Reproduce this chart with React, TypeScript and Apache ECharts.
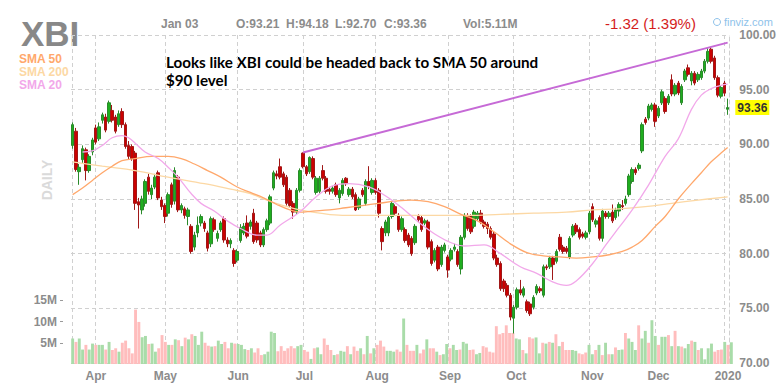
import React, { useEffect, useRef } from "react";
import * as echarts from "echarts";

// ---------- calendar ----------
const START_DAY = "2019-03-21";
const END_DAY = "2020-01-03";
const MARKET_HOLIDAYS = ["2019-04-19", "2019-05-27", "2019-07-04", "2019-09-02", "2019-11-28", "2019-12-25", "2020-01-01"];
const MONTH_NAMES = ["Jan", "Feb", "Mar", "Apr", "May", "Jun", "Jul", "Aug", "Sep", "Oct", "Nov", "Dec"];

// ---------- header values ----------
const TICKER = "XBI";
const HEADER_DATE = "Jan 03";
const HEADER_OHLC = ["O:93.21", "H:94.18", "L:92.70", "C:93.36"];
const HEADER_VOL = "Vol:5.11M";
const HEADER_CHANGE = "-1.32 (1.39%)";
const LAST_CLOSE = 93.36;
const NOTE_LINES = ["Looks like XBI could be headed back to SMA 50 around", "$90 level"];

// ---------- price axis ----------
const PRICE_MIN = 70;
const PRICE_MAX = 100;
const PRICE_STEP = 5;
const VOL_MAX = 20e6;
const VOL_TICKS = [5e6, 10e6, 15e6];

// ---------- daily candles: [open, close, low, high] ----------
const CANDLES: number[][] = [
  [89.9, 91.8, 89.6, 92.0], [91.2, 87.7, 87.5, 91.5], [87.5, 87.9, 86.3, 88.2], [88.6, 89.6, 88.3, 89.9],
  [89.5, 87.6, 86.7, 89.7], [87.6, 88.9, 87.4, 89.1], [89.3, 90.4, 89.0, 90.6],
  [91.5, 90.2, 90.0, 91.8], [90.5, 91.6, 90.3, 92.0], [92.2, 92.7, 91.9, 92.9], [92.5, 91.3, 91.1, 92.8],
  [92.1, 93.8, 91.9, 94.0], [93.1, 92.2, 92.0, 93.6], [92.5, 91.2, 91.0, 92.7], [91.8, 92.8, 91.6, 93.1],
  [93.0, 91.8, 91.5, 93.3], [91.8, 89.8, 89.6, 92.0], [89.9, 88.9, 88.6, 90.3], [89.8, 88.7, 88.5, 90.0],
  [89.2, 84.6, 84.0, 89.4], [84.75, 84.45, 82.3, 85.1], [84.0, 85.0, 83.6, 85.3], [84.6, 86.6, 84.3, 86.8],
  [87.0, 85.7, 85.4, 87.3], [85.4, 86.0, 85.0, 86.3], [86.1, 87.0, 85.9, 87.3], [87.4, 85.1, 84.9, 87.6],
  [84.9, 84.3, 84.0, 85.2],
  [84.4, 83.4, 82.8, 84.6], [83.7, 85.4, 83.4, 85.6], [86.3, 84.5, 84.2, 86.5], [84.8, 87.6, 84.5, 87.9],
  [87.0, 84.0, 83.8, 87.2], [84.0, 84.4, 83.7, 84.6], [84.1, 83.5, 83.2, 84.3], [83.4, 84.0, 82.6, 84.2],
  [82.5, 80.2, 80.0, 82.7], [80.6, 81.7, 80.3, 82.0], [81.9, 82.6, 81.5, 83.4], [82.8, 83.4, 82.5, 83.6],
  [82.8, 82.3, 82.0, 83.0], [81.9, 80.5, 80.2, 82.1], [80.9, 83.2, 80.6, 83.4], [83.1, 82.2, 82.0, 83.3],
  [81.4, 81.85, 81.1, 82.1], [82.2, 82.8, 82.0, 83.0], [83.2, 81.25, 81.0, 83.4], [81.25, 80.9, 80.6, 81.5],
  [80.9, 81.2, 80.5, 81.4], [80.3, 79.1, 78.8, 80.5],
  [79.4, 80.2, 79.2, 80.4], [81.2, 82.4, 81.0, 82.7], [81.9, 82.5, 81.7, 82.8], [82.8, 81.6, 81.4, 83.5],
  [82.5, 82.9, 82.2, 83.1], [83.7, 81.1, 80.9, 84.1], [82.8, 81.25, 81.0, 83.0], [81.9, 80.8, 80.6, 82.1],
  [80.8, 82.2, 80.6, 82.4], [82.2, 83.0, 82.0, 83.2], [82.8, 85.2, 82.6, 85.4], [86.0, 87.4, 85.8, 87.6],
  [87.3, 87.1, 86.8, 87.6], [87.95, 87.0, 86.8, 88.7], [87.3, 86.3, 86.1, 87.5], [87.0, 84.6, 84.4, 87.2],
  [85.8, 84.4, 84.2, 86.0], [84.6, 83.8, 83.2, 84.8], [83.8, 85.8, 83.6, 86.0], [85.8, 87.6, 85.6, 87.8],
  [89.2, 87.95, 87.8, 89.25], [87.95, 87.3, 87.1, 88.1], [87.5, 88.8, 87.3, 88.9], [88.7, 87.0, 86.8, 88.9],
  [85.6, 86.9, 85.4, 87.1], [85.7, 86.9, 85.5, 87.1], [87.6, 86.9, 86.7, 88.1], [86.9, 85.7, 85.5, 87.1],
  [85.9, 85.7, 85.4, 86.1], [85.7, 86.0, 85.5, 86.2], [86.3, 85.4, 85.2, 86.5], [85.1, 85.8, 84.6, 86.0],
  [85.5, 86.7, 85.3, 86.9], [86.9, 86.4, 86.2, 87.0], [85.4, 85.9, 85.2, 86.1], [85.9, 85.2, 85.0, 86.1],
  [85.4, 84.0, 83.9, 85.6], [84.2, 85.0, 84.0, 85.2], [85.8, 85.4, 85.2, 86.0], [84.6, 86.6, 84.4, 86.8],
  [86.6, 86.2, 85.9, 88.0], [85.6, 86.7, 85.4, 86.9],
  [86.7, 85.6, 85.4, 86.9], [85.8, 83.7, 83.3, 86.0], [82.3, 81.1, 80.3, 82.5], [81.9, 82.9, 81.6, 83.1],
  [81.9, 83.3, 81.6, 83.5], [83.4, 84.6, 83.2, 84.8], [84.3, 83.7, 83.5, 84.5], [83.5, 82.2, 82.0, 83.7],
  [82.2, 83.2, 82.0, 83.4], [82.2, 81.2, 81.0, 82.4], [81.7, 80.8, 80.6, 81.9], [81.4, 80.0, 79.8, 81.6],
  [81.0, 82.5, 80.8, 82.7], [83.4, 83.1, 82.9, 83.6], [83.3, 82.2, 82.0, 83.5], [82.8, 83.0, 82.6, 83.2],
  [82.9, 80.6, 80.4, 83.1], [81.1, 79.1, 78.9, 81.3], [79.4, 80.3, 79.2, 80.5], [80.6, 78.6, 78.4, 80.8],
  [79.0, 80.6, 78.8, 80.8], [80.3, 80.8, 80.1, 81.0],
  [79.7, 78.5, 77.8, 79.9], [79.5, 80.3, 79.3, 80.5], [80.4, 80.6, 80.2, 80.9], [80.2, 79.0, 78.8, 80.4],
  [78.6, 81.5, 78.1, 81.7], [81.5, 83.5, 81.3, 83.7], [83.5, 82.3, 82.1, 83.7], [83.4, 82.0, 81.8, 83.6],
  [82.5, 83.8, 82.3, 84.0], [83.2, 83.7, 83.0, 83.9], [83.7, 82.9, 82.7, 84.0], [82.9, 82.5, 82.3, 83.1],
  [82.7, 82.3, 81.8, 82.9], [82.3, 81.5, 81.3, 82.5], [81.8, 79.6, 79.4, 82.0], [79.6, 79.0, 78.8, 79.9],
  [79.1, 76.8, 76.6, 79.3], [77.5, 76.8, 76.5, 77.7], [77.1, 76.2, 76.0, 77.3], [76.2, 74.2, 73.9, 76.4],
  [74.1, 75.1, 72.7, 75.3], [75.1, 76.7, 74.9, 76.9], [76.7, 76.4, 76.2, 77.6], [76.2, 76.8, 76.0, 77.0],
  [75.6, 74.8, 74.6, 75.8], [75.4, 74.5, 74.3, 75.6], [75.1, 76.0, 74.9, 76.2], [76.4, 77.0, 76.2, 77.2],
  [76.8, 76.6, 76.4, 77.0], [76.2, 78.8, 76.0, 79.0], [78.8, 78.7, 78.5, 79.0], [78.8, 79.6, 78.6, 79.8],
  [79.6, 79.0, 77.6, 79.8], [79.3, 80.2, 79.1, 80.4], [81.5, 80.4, 80.2, 81.8], [80.6, 80.2, 80.0, 80.8],
  [80.5, 80.2, 80.0, 80.7], [79.7, 81.4, 79.5, 81.6], [81.7, 82.5, 81.5, 82.7], [82.6, 82.0, 81.8, 82.8],
  [82.2, 81.5, 81.3, 82.4], [81.8, 81.6, 81.4, 82.0], [81.5, 81.9, 81.3, 82.1],
  [82.0, 83.7, 81.8, 83.9], [84.3, 83.1, 82.9, 84.6], [82.7, 83.0, 82.4, 83.2], [83.3, 81.4, 81.2, 83.5],
  [81.4, 83.9, 81.1, 84.1], [83.7, 83.4, 83.2, 83.9], [83.4, 83.7, 83.2, 83.9], [83.8, 83.0, 82.8, 84.5],
  [83.3, 84.0, 83.1, 84.2], [83.9, 84.5, 83.4, 84.7], [84.4, 84.3, 84.0, 84.9], [84.6, 85.0, 84.4, 85.3],
  [85.4, 87.1, 85.2, 87.3], [86.6, 87.7, 86.4, 87.9], [87.7, 87.4, 87.2, 87.9], [87.8, 88.1, 87.6, 88.3],
  [89.4, 91.8, 89.2, 92.0], [92.3, 92.0, 91.8, 92.5], [92.4, 93.5, 92.2, 93.7], [93.2, 93.6, 93.0, 93.8],
  [93.6, 92.1, 91.6, 93.8], [92.6, 93.3, 92.4, 93.5], [93.8, 94.8, 93.6, 95.0], [94.2, 93.0, 92.8, 94.4],
  [93.8, 94.4, 93.6, 94.6], [95.9, 94.6, 94.4, 96.4], [94.6, 95.4, 94.4, 95.6], [95.6, 94.7, 94.5, 95.8],
  [93.8, 95.3, 93.6, 95.5], [95.9, 96.7, 95.7, 96.9], [97.0, 96.4, 96.2, 97.3], [95.8, 96.5, 95.4, 96.7],
  [96.5, 95.6, 95.4, 96.7], [95.9, 96.4, 95.7, 96.6], [96.1, 96.7, 95.9, 96.9], [96.7, 97.6, 96.5, 97.8],
  [97.6, 98.5, 97.4, 98.8], [98.7, 97.6, 97.4, 98.9], [97.9, 96.1, 95.9, 98.1], [96.1, 94.5, 94.3, 96.3],
  [94.4, 95.2, 94.2, 95.4],
  [95.6, 94.68, 94.4, 95.8], [93.21, 93.36, 92.7, 94.18],
];

// ---------- daily volume, millions ----------
const VOLUME_M: number[] = [
  6.0, 5.2, 6.0, 3.4, 4.5, 3.4, 4.8, 4.5, 4.5, 4.5, 3.4, 5.2, 3.3, 3.7, 2.9, 5.0, 5.5, 3.7, 2.5, 12.8,
  9.9, 6.3, 6.6, 4.7, 4.8, 2.9, 3.7, 6.8, 5.2, 4.5, 4.5, 5.8, 5.6, 4.2, 6.2, 5.8, 7.0, 6.6, 4.5, 7.6,
  5.0, 4.3, 4.1, 4.2, 5.5, 4.7, 5.2, 3.7, 5.0, 4.8, 4.7, 4.5, 3.5, 3.3, 3.7, 2.7, 3.7, 2.1, 2.3, 2.9,
  7.6, 7.3, 3.0, 4.2, 3.1, 3.7, 4.2, 3.7, 4.2, 4.5, 3.3, 2.9, 1.2, 3.7, 3.9, 2.3, 6.0, 4.5, 3.3, 2.1,
  2.3, 3.1, 2.9, 4.2, 2.3, 4.1, 3.1, 3.7, 2.3, 6.6, 2.5, 3.7, 4.5, 5.5, 4.1, 3.1, 3.1, 2.9, 3.4, 2.9,
  10.7, 4.5, 3.1, 3.1, 4.5, 2.5, 3.4, 5.8, 3.7, 3.7, 2.9, 2.1, 2.3, 4.7, 3.7, 4.5, 3.3, 3.4, 5.2, 4.8,
  3.3, 3.4, 2.3, 2.6, 4.2, 3.9, 2.9, 2.7, 8.9, 7.0, 7.3, 9.1, 7.3, 7.3, 6.0, 5.8, 3.3, 2.5, 6.3, 6.0,
  6.25, 2.5, 5.0, 4.8, 5.2, 5.0, 7.0, 4.2, 5.2, 3.3, 3.3, 3.3, 3.1, 2.5, 2.3, 2.7, 4.5, 2.3, 3.3, 4.5,
  2.1, 5.0, 2.3, 2.3, 3.9, 3.3, 3.4, 7.3, 6.0, 5.2, 3.3, 9.1, 6.0, 7.8, 5.0, 10.3, 6.6, 4.5, 6.4, 6.4,
  6.8, 4.2, 7.8, 4.2, 4.1, 3.7, 4.7, 5.5, 5.2, 3.3, 3.7, 1.1, 3.7, 4.8, 2.9, 3.3, 3.4, 5.2, 4.5, 5.11,
];

// ---------- moving averages, read as [dayIndex, value] ----------
const SMA20_POINTS: number[][] = [
  [3, 89.3], [6, 89.4], [9, 89.9], [12, 90.6], [15, 90.8], [17, 90.6], [19, 90.1], [22, 89.3], [26, 88.7],
  [29, 87.9], [32, 87.0], [36, 85.5], [39, 84.6], [43, 83.9], [47, 83.0], [51, 82.3], [56, 81.7], [59, 81.7],
  [63, 82.6], [66, 83.2], [69, 83.8], [74, 85.2], [79, 86.2], [84, 86.4], [90, 86.1], [95, 85.3], [100, 84.2],
  [105, 82.9], [110, 81.8], [115, 81.0], [119, 80.7], [125, 80.8], [130, 80.0], [136, 78.8], [141, 78.2],
  [146, 77.4], [150, 77.1], [153, 77.5], [158, 79.1], [162, 80.8], [166, 82.4], [170, 84.0], [175, 86.3],
  [180, 88.9], [184, 90.5], [188, 93.2], [191, 94.5], [194, 95.1], [197, 95.4], [199, 95.5],
];
const SMA50_POINTS: number[][] = [
  [0, 85.4], [3, 86.0], [6, 86.7], [9, 87.4], [12, 88.0], [15, 88.5], [19, 88.7], [24, 88.9], [29, 88.9],
  [33, 88.7], [37, 88.2], [41, 87.6], [45, 87.0], [50, 86.1], [54, 85.6], [58, 85.1], [62, 84.5], [66, 84.0],
  [69, 83.8], [73, 83.9], [78, 84.0], [83, 84.2], [88, 84.4], [93, 84.6], [98, 84.8], [103, 84.9],
  [108, 84.75], [113, 84.3], [118, 83.6], [123, 83.0], [128, 82.0], [133, 80.9], [138, 80.1], [143, 79.8],
  [148, 79.7], [153, 79.6], [158, 79.7], [163, 79.9], [167, 80.2], [170, 80.6], [173, 81.2], [177, 82.5],
  [180, 83.4], [184, 85.0], [188, 86.4], [191, 87.4], [194, 88.4], [197, 89.2], [199, 89.7],
];
const SMA200_POINTS: number[][] = [
  [0, 88.4], [9, 88.0], [19, 87.6], [29, 87.0], [40, 86.4], [48, 85.9], [54, 85.5], [58, 85.0], [64, 84.4],
  [69, 84.0], [75, 83.7], [82, 83.5], [90, 83.5], [100, 83.5], [110, 83.5], [120, 83.5], [130, 83.6],
  [140, 83.7], [150, 83.8], [158, 84.0], [166, 84.1], [174, 84.3], [182, 84.6], [190, 84.9], [199, 85.2],
];
const TREND_POINTS: number[][] = [[70, 89.25], [199, 99.3]];

const FONT = "'Liberation Sans', Arial, sans-serif";
const GRAY = "#8c8c8c";

function tradingDays(): string[] {
  const out: string[] = [];
  const d = new Date(START_DAY + "T00:00:00Z");
  const end = new Date(END_DAY + "T00:00:00Z");
  while (d <= end) {
    const wd = d.getUTCDay();
    const s = d.toISOString().slice(0, 10);
    if (wd !== 0 && wd !== 6 && !MARKET_HOLIDAYS.includes(s)) out.push(s);
    d.setUTCDate(d.getUTCDate() + 1);
  }
  return out;
}

export default function App() {
  const ref = useRef<HTMLDivElement>(null);
  useEffect(() => {
    const chart = echarts.init(ref.current!, null, { renderer: "svg" });
    const dates = tradingDays();
    const monthStart = (i: number) => i > 0 && dates[i] && dates[i].slice(0, 7) !== dates[i - 1].slice(0, 7);
    const isUp = (c: number[]) => c[1] >= c[0];
    const toLine = (pts: number[][]) => pts.map(([i, v]) => [dates[i], v]);
    const gridLine = { color: "#d0d0d0", type: [4, 3] as any, width: 1 };

    const option: any = {
      animation: false,
      textStyle: { fontFamily: FONT },
      grid: [
        { left: 71, right: 46, top: 35, bottom: 29 },
        { left: 71, right: 46, top: 279, bottom: 28 },
      ],
      xAxis: [
        {
          type: "category", gridIndex: 0, data: dates, boundaryGap: true,
          axisLine: { show: false }, axisTick: { show: false }, axisLabel: { show: false },
          splitLine: { show: true, alignWithLabel: true, interval: (i: number) => i === 0 || monthStart(i), lineStyle: gridLine },
        },
        {
          type: "category", gridIndex: 1, data: dates, boundaryGap: true,
          axisLine: { show: false }, axisTick: { show: false }, splitLine: { show: false },
          axisLabel: {
            interval: (i: number) => monthStart(i),
            formatter: (v: string) => (v.slice(5, 7) === "01" ? v.slice(0, 4) : MONTH_NAMES[parseInt(v.slice(5, 7), 10) - 1]),
            color: GRAY, fontWeight: "bold", fontSize: 12, margin: 6, fontFamily: FONT,
          },
        },
      ],
      yAxis: [
        {
          type: "value", gridIndex: 0, position: "right", min: PRICE_MIN, max: PRICE_MAX, interval: PRICE_STEP,
          axisLine: { show: true, lineStyle: gridLine }, axisTick: { show: false },
          axisLabel: { formatter: (v: number) => v.toFixed(2), color: GRAY, fontWeight: "bold", fontSize: 12, margin: 10, fontFamily: FONT },
          splitLine: { show: true, lineStyle: gridLine },
        },
        {
          type: "value", gridIndex: 1, position: "left", min: 0, max: VOL_MAX, interval: 5e6, offset: 8,
          axisLine: { show: false },
          axisTick: { show: true, length: 3, customValues: VOL_TICKS, lineStyle: { color: "#9a9a9a" } },
          axisLabel: {
            customValues: VOL_TICKS,
            formatter: (v: number) => v / 1e6 + "M",
            color: GRAY, fontWeight: "bold", fontSize: 12, margin: 6, fontFamily: FONT,
          },
          splitLine: { show: false },
        },
      ],
      series: [
        {
          type: "bar", xAxisIndex: 1, yAxisIndex: 1, barCategoryGap: "12%",
          data: VOLUME_M.map((v, i) => ({ value: v * 1e6, itemStyle: { color: isUp(CANDLES[i]) ? "#a9dca9" : "#ffbdbd" } })),
        },
        { type: "line", data: toLine(SMA200_POINTS), smooth: 0.4, showSymbol: false, lineStyle: { color: "#fcd8a4", width: 1.3 } },
        { type: "line", data: toLine(SMA50_POINTS), smooth: 0.4, showSymbol: false, lineStyle: { color: "#ffa86c", width: 1.3 } },
        { type: "line", data: toLine(SMA20_POINTS), smooth: 0.4, showSymbol: false, lineStyle: { color: "#f2a8ea", width: 1.3 } },
        {
          type: "candlestick", xAxisIndex: 0, yAxisIndex: 0, data: CANDLES, barWidth: 3,
          itemStyle: { color: "#1fae1f", color0: "#cc0000", borderColor: "#2a8a2a", borderColor0: "#a01818", borderWidth: 1 },
          markLine: {
            silent: true, symbol: ["none", "none"], animation: false,
            data: [{ yAxis: LAST_CLOSE }],
            lineStyle: { color: "rgba(255,255,255,0)", width: 1, type: "solid" },
            label: {
              show: true, position: "end", distance: 6, formatter: LAST_CLOSE.toFixed(2),
              backgroundColor: "#ffff00", color: "#333333", fontWeight: "bold", fontSize: 12, padding: [2, 2, 1, 2], fontFamily: FONT,
            },
          },
        },
        { type: "line", data: toLine(TREND_POINTS), showSymbol: false, lineStyle: { color: "#c66ad6", width: 2 } },
      ],
      graphic: [
        { type: "text", x: 21, y: 33, style: { text: TICKER, font: `bold 35px ${FONT}`, fill: "#888888", textVerticalAlign: "middle" } },
        { type: "text", x: 19, y: 59, style: { text: "SMA 50", font: `bold 12px ${FONT}`, fill: "#ffa86c", textVerticalAlign: "middle" } },
        { type: "text", x: 19, y: 72, style: { text: "SMA 200", font: `bold 12px ${FONT}`, fill: "#fcd8a4", textVerticalAlign: "middle" } },
        { type: "text", x: 19, y: 85, style: { text: "SMA 20", font: `bold 12px ${FONT}`, fill: "#f2a8ea", textVerticalAlign: "middle" } },
        { type: "text", x: 161, y: 24, style: { text: HEADER_DATE, font: `bold 12px ${FONT}`, fill: GRAY, textVerticalAlign: "middle" } },
        { type: "text", x: 236, y: 24, style: { text: HEADER_OHLC[0], font: `bold 12px ${FONT}`, fill: GRAY, textVerticalAlign: "middle" } },
        { type: "text", x: 286, y: 24, style: { text: HEADER_OHLC[1], font: `bold 12px ${FONT}`, fill: GRAY, textVerticalAlign: "middle" } },
        { type: "text", x: 335, y: 24, style: { text: HEADER_OHLC[2], font: `bold 12px ${FONT}`, fill: GRAY, textVerticalAlign: "middle" } },
        { type: "text", x: 384, y: 24, style: { text: HEADER_OHLC[3], font: `bold 12px ${FONT}`, fill: GRAY, textVerticalAlign: "middle" } },
        { type: "text", x: 463, y: 24, style: { text: HEADER_VOL, font: `bold 12px ${FONT}`, fill: GRAY, textVerticalAlign: "middle" } },
        { type: "text", x: 605, y: 23, style: { text: HEADER_CHANGE, font: `15px ${FONT}`, fill: "#d41c1c", textVerticalAlign: "middle" } },
        { type: "circle", shape: { cx: 717, cy: 22, r: 3.5 }, style: { fill: "none", stroke: "#8ec2ea", lineWidth: 1 } },
        { type: "text", x: 724, y: 22, style: { text: "finviz.com", font: `11px ${FONT}`, fill: "#8ec2ea", textVerticalAlign: "middle" } },
        { type: "text", x: 47, y: 180, rotation: Math.PI / 2, style: { text: "DAILY", font: `bold 14px ${FONT}`, fill: "#dadada", textAlign: "center", textVerticalAlign: "middle" } },
        { type: "text", x: 166, y: 62, style: { text: NOTE_LINES[0], font: `bold 15.2px Lato, sans-serif`, fill: "#000", textVerticalAlign: "middle" } },
        { type: "text", x: 166, y: 80, style: { text: NOTE_LINES[1], font: `bold 15.2px Lato, sans-serif`, fill: "#000", textVerticalAlign: "middle" } },
      ],
    };
    chart.setOption(option);
    return () => chart.dispose();
  }, []);
  return <div ref={ref} style={{ position: "fixed", left: 0, top: 0, width: 779, height: 392, background: "#fff" }} />;
}
